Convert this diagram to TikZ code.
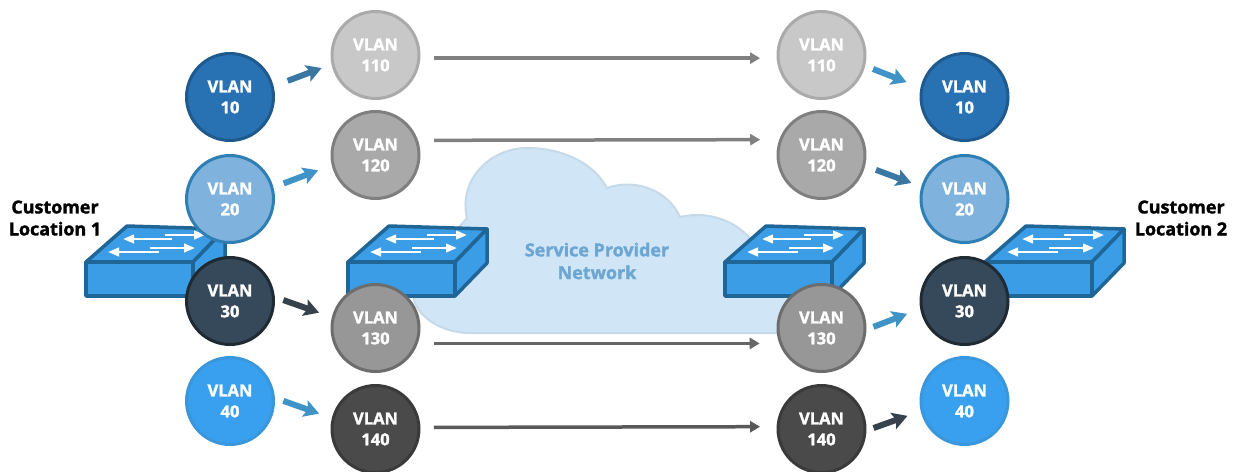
\documentclass[tikz,border=0pt]{standalone}
\usepackage{fontspec}
\setmainfont{Open Sans}[BoldFeatures={FakeBold=1.6}]
\usetikzlibrary{arrows.meta}

\definecolor{swfill}{HTML}{3A9DE6}
\definecolor{swline}{HTML}{1F6596}
\definecolor{midblue}{HTML}{3F93C6}
\definecolor{steel}{HTML}{3A78A3}
\definecolor{slate}{HTML}{37424C}
\definecolor{cloudfill}{HTML}{D0E6F7}
\definecolor{cloudline}{HTML}{C5D9E8}
\definecolor{cloudtext}{HTML}{6CA6D1}
\definecolor{fill10}{HTML}{2871B3}
\definecolor{line10}{HTML}{1F5A8E}
\definecolor{fill20}{HTML}{7FB3DE}
\definecolor{line20}{HTML}{2F7FB5}
\definecolor{fill30}{HTML}{36495A}
\definecolor{line30}{HTML}{1F2A33}
\definecolor{fill40}{HTML}{38A0EE}
\definecolor{line40}{HTML}{3A97DC}
\definecolor{fill110}{HTML}{C8C8C8}
\definecolor{line110}{HTML}{AAAAAA}
\definecolor{fill120}{HTML}{A9A9A9}
\definecolor{line120}{HTML}{7F7F7F}
\definecolor{fill130}{HTML}{979797}
\definecolor{line130}{HTML}{6D6D6D}
\definecolor{fill140}{HTML}{4A4A4A}
\definecolor{line140}{HTML}{3A3A3A}

\begin{document}
\begin{tikzpicture}[x=0.02cm,y=-0.02cm]

\tikzset{vlan/.style = {shape=circle,draw=line#1,fill=fill#1,line width=0.06cm,minimum size=1.74cm,inner sep=0pt,
  align=center,text=white,font=\fontsize{9.4}{11.9}\selectfont\bfseries}}
\tikzset{hop/.style = {line width=0.12cm,-{Stealth[length=0.3cm,width=0.34cm,inset=0.06cm]}}}
\tikzset{trunk/.style = {line width=0.07cm,-{Triangle[length=0.2cm,width=0.22cm]}}}
\tikzset{site/.style = {align=center,text=black,font=\fontsize{10.2}{12.5}\selectfont\bfseries}}
\tikzset{flow/.style = {white,line width=0.05cm,-{Triangle[length=0.22cm,width=0.17cm]}}}
\tikzset{swface/.style = {fill=swfill,draw=swline,line width=0.07cm,line join=round}}
\tikzset{switchbox/.pic = {
  \draw[swface] (0,0) -- (41,-36) -- (139,-33) -- (107,0) -- cycle;
  \draw[swface] (107,0) -- (139,-33) -- (139,1) -- (107,34) -- cycle;
  \draw[swface] (0,0) rectangle (107,34);
  \draw[flow] (86,-23) -- (37,-23);
  \draw[flow] (79,-27) -- (119,-27);
  \draw[flow] (64,-14) -- (109,-14);
  \draw[flow] (73,-10) -- (22,-10);
}}

\clip (0,0) rectangle (1239,471);

%cloud
\draw[fill=cloudfill,draw=cloudline,line width=0.04cm]
  (467,218) .. controls (458,180) and (490,148) .. (527,148)
  .. controls (565,148) and (595,165) .. (607,188)
  .. controls (635,178) and (668,190) .. (680,217)
  .. controls (710,210) and (740,222) .. (755,245)
  .. controls (800,250) and (830,333) .. (785,333)
  -- (470,333) .. controls (440,333) and (415,315) .. (413,295)
  .. controls (413,265) and (440,250) .. (467,218) -- cycle;
\node[align=center,text=cloudtext,font=\fontsize{10.2}{12.9}\selectfont\bfseries] (provider) at (597,261) {Service Provider\\Network};

%switches
\pic (sw1) at (86,262) {switchbox};
\pic (sw2) at (348,262) {switchbox};
\pic (sw3) at (725,262) {switchbox};
\pic (sw4) at (985,262) {switchbox};

%labels
\node[site] (loc1) at (55,218) {Customer\\Location 1};
\node[site] (loc2) at (1181,218) {Customer\\Location 2};

%verticies
\node[vlan=10] (l10) at (230,97) {VLAN\\10};
\node[vlan=20] (l20) at (230,199) {VLAN\\20};
\node[vlan=30] (l30) at (230,301) {VLAN\\30};
\node[vlan=40] (l40) at (230,401) {VLAN\\40};
\node[vlan=110] (l110) at (375.5,55) {VLAN\\110};
\node[vlan=120] (l120) at (375.5,155) {VLAN\\120};
\node[vlan=130] (l130) at (375.5,328) {VLAN\\130};
\node[vlan=140] (l140) at (375.5,429) {VLAN\\140};
\node[vlan=110] (r110) at (821.5,55) {VLAN\\110};
\node[vlan=120] (r120) at (821.5,155) {VLAN\\120};
\node[vlan=130] (r130) at (821.5,328) {VLAN\\130};
\node[vlan=140] (r140) at (821.5,429) {VLAN\\140};
\node[vlan=10] (r10) at (964.5,97) {VLAN\\10};
\node[vlan=20] (r20) at (964.5,199) {VLAN\\20};
\node[vlan=30] (r30) at (964.5,301) {VLAN\\30};
\node[vlan=40] (r40) at (964.5,401) {VLAN\\40};

%edges
\draw[hop,steel,shorten <=0.3cm,shorten >=0.21cm] (l10.14) -- (l110.192);
\draw[hop,midblue,shorten <=0.22cm,shorten >=0.29cm] (l20.15) -- (l120.193);
\draw[hop,slate,shorten <=0.18cm,shorten >=0.27cm] (l30.5) -- (l130.166);
\draw[hop,midblue,shorten <=0.18cm,shorten >=0.27cm] (l40.4) -- (l140.166);
\draw[hop,midblue,shorten <=0.17cm,shorten >=0.3cm] (r110.-14) -- (r10.168);
\draw[hop,steel,shorten <=0.23cm,shorten >=0.21cm] (r120.-14) -- (r20.164);
\draw[hop,midblue,shorten <=0.15cm,shorten >=0.28cm] (r130.-2) -- (r30.190);
\draw[hop,slate,shorten <=0.15cm,shorten >=0.28cm] (r140.-2) -- (r40.193);
\draw[trunk,gray,shorten <=0.27cm,shorten >=0.33cm] (l110.-4) -- (r110.184);
\draw[trunk,gray,shorten <=0.32cm,shorten >=0.38cm] (l120.19.5) -- (r120.160.5);
\draw[trunk,black!60,shorten <=0.33cm,shorten >=0.39cm] (l130.-20.8) -- (r130.200.8);
\draw[trunk,black!65,shorten <=0.27cm,shorten >=0.33cm] (l140.2.5) -- (r140.177.5);

\end{tikzpicture}
\end{document}
